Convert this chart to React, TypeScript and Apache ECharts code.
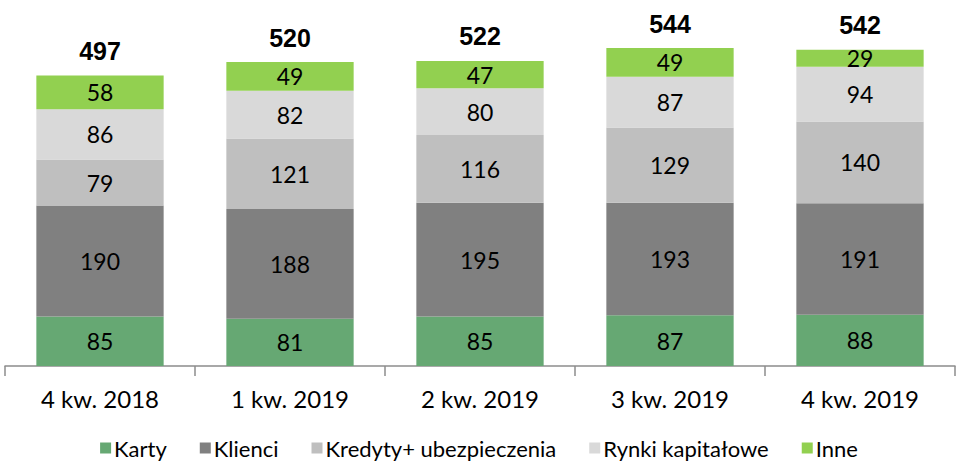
import React, { useEffect, useRef } from "react";
import * as echarts from "echarts";

const categories = ["4 kw. 2018", "1 kw. 2019", "2 kw. 2019", "3 kw. 2019", "4 kw. 2019"];
const karty = [85, 81, 85, 87, 88];
const klienci = [190, 188, 195, 193, 191];
const kredyty = [79, 121, 116, 129, 140];
const rynki = [86, 82, 80, 87, 94];
const inne = [58, 49, 47, 49, 29];
const totals = [497, 520, 522, 544, 542];

const seriesNames = ["Karty", "Klienci", "Kredyty+ ubezpieczenia", "Rynki kapitałowe", "Inne"];
const seriesColors = ["#66A873", "#808080", "#BFBFBF", "#D9D9D9", "#92D050"];

const FONT = "Lato";

export default function App() {
  const ref = useRef<HTMLDivElement>(null);
  useEffect(() => {
    if (!ref.current) return;
    const chart = echarts.init(ref.current, undefined, { renderer: "svg" });
    const dataSets = [karty, klienci, kredyty, rynki, inne];
    const series: any[] = dataSets.map((d, i) => ({
      name: seriesNames[i],
      type: "bar",
      stack: "s",
      barWidth: "67%",
      data: d,
      itemStyle: { color: seriesColors[i] },
      label: {
        show: true,
        position: "inside",
        color: "#000",
        fontFamily: FONT,
        fontSize: 23,
      },
    }));
    series.push({
      name: "Suma",
      type: "bar",
      stack: "s",
      barWidth: "67%",
      data: totals.map(() => 0),
      itemStyle: { color: "transparent" },
      label: {
        show: true,
        position: "top",
        distance: 12,
        formatter: (p: any) => String(totals[p.dataIndex]),
        color: "#000",
        fontFamily: "Liberation Sans",
        fontWeight: "bold",
        fontSize: 25,
      },
    });
    chart.setOption({
      animation: false,
      grid: { left: 5, right: 3, top: 16, bottom: 98 },
      legend: {
        data: seriesNames,
        bottom: 0,
        left: "center",
        itemWidth: 11,
        itemHeight: 11,
        itemGap: 33,
        icon: "rect",
        textStyle: { fontFamily: FONT, fontSize: 22, color: "#000", padding: [0, 0, 0, -2] },
      },
      xAxis: {
        type: "category",
        data: categories,
        axisLine: { lineStyle: { color: "#8C8C8C", width: 1.5 } },
        axisTick: { show: true, length: 10, lineStyle: { color: "#8C8C8C", width: 1.5 } },
        axisLabel: { color: "#000", fontFamily: FONT, fontSize: 24, margin: 20 },
      },
      yAxis: {
        type: "value",
        min: 0,
        max: 600,
        show: false,
      },
      series,
    });
    return () => chart.dispose();
  }, []);
  return <div ref={ref} style={{ width: 958, height: 464, position: "absolute", left: 0, top: 0 }} />;
}
